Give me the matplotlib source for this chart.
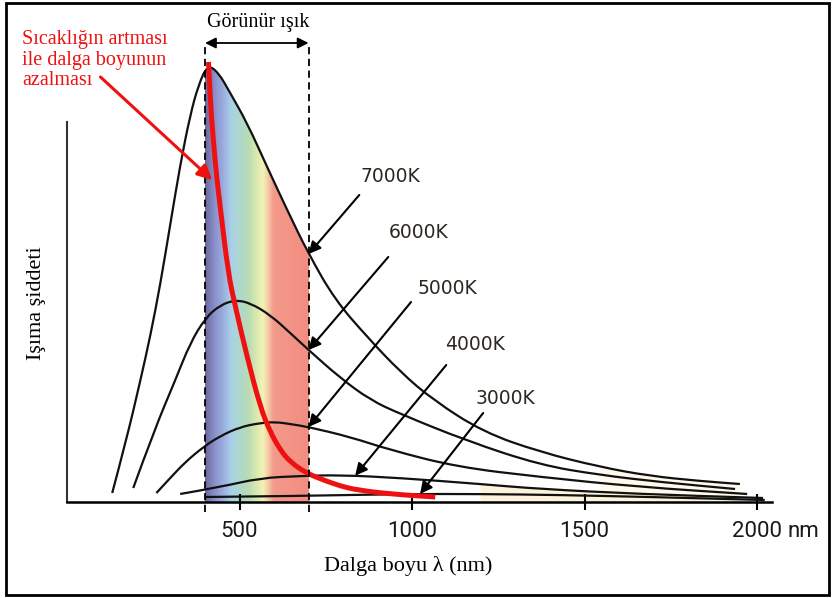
import numpy as np
import matplotlib.pyplot as plt
from matplotlib.colors import LinearSegmentedColormap
from matplotlib.patches import Rectangle, PathPatch
from matplotlib.path import Path

# Dalga boyu (nm) ve ışıma şiddeti (keyfi birim), resimden okunan noktalar
lam_7000 = [131, 172, 213, 242, 270, 299, 328, 357, 381, 407, 438, 473, 522, 580,
            638, 700, 777, 870, 966, 1061, 1206, 1371, 1545, 1690, 1834, 1950]
int_7000 = [9, 62, 122, 167, 217, 277, 337, 387, 417, 437, 430, 409, 379, 335,
            292, 248, 202, 165, 130, 102, 70, 50, 35, 26, 21, 18]

lam_6000 = [192, 253, 314, 357, 401, 444, 488, 531, 589, 647, 700, 792, 879, 966,
            1160, 1371, 1545, 1718, 1936]
int_6000 = [14, 72, 122, 159, 184, 197, 202, 199, 187, 169, 152, 124, 102, 88,
            61, 37, 27, 20, 13]

lam_5000 = [259, 299, 343, 395, 444, 502, 560, 604, 647, 700, 821, 937, 1131,
            1371, 1661, 1971]
int_5000 = [9, 24, 40, 55, 66, 75, 79, 80, 78, 75, 65, 52, 35, 25, 15, 8]

lam_4000 = [328, 444, 560, 676, 792, 966, 1197, 1371, 1661, 2017]
int_4000 = [8, 15, 24, 26, 27, 24, 18, 13, 8, 4]

lam_3000 = [400, 676, 966, 1197, 1429, 1690, 2022]
int_3000 = [5, 6, 8, 8, 7, 5, 2]

# Wien kayması (kırmızı eğri)
lam_wien = [410, 415, 424, 433, 444, 467, 488, 522, 560, 589, 618, 647, 693, 743,
            792, 841, 937, 1067]
int_wien = [440, 402, 362, 327, 295, 229, 195, 145, 95, 70, 52, 40, 29, 22, 16,
            12, 8, 5]

curves = [(lam_7000, int_7000), (lam_6000, int_6000), (lam_5000, int_5000),
          (lam_4000, int_4000), (lam_3000, int_3000)]
temps = ["7000K", "6000K", "5000K", "4000K", "3000K"]
arrow_tip_lam = [700, 700, 700, 835, 1023]

x_ticks = [500, 1000, 1500, 2000]
x_ticklabels = ["500", "1000", "1500", "2000"]
visible = (400, 700)


def smooth_path(x, y):
    # noktalardan geçen yumuşak çizgi (kuadratik bezier, orta noktalar)
    p = np.column_stack([x, y]).astype(float)
    verts, codes = [p[0]], [Path.MOVETO]
    for i in range(1, len(p) - 1):
        verts += [p[i], (p[i] + p[i + 1]) / 2]
        codes += [Path.CURVE3, Path.CURVE3]
    verts.append(p[-1])
    codes.append(Path.LINETO)
    return Path(verts, codes)


fig = plt.figure(figsize=(8.32, 5.98), dpi=100)
ax = fig.add_axes([67 / 832, 96 / 598, 705 / 832, 380 / 598])
ax.set_xlim(0, 2043)
ax.set_ylim(0, 380)

# görünür bölge renk geçişi
spec = LinearSegmentedColormap.from_list("spec", [
    (0.00, "#6c6a9b"), (0.09, "#8a90cc"), (0.18, "#9cb0e0"), (0.25, "#a9d0e7"),
    (0.33, "#add8cf"), (0.42, "#b8dcb2"), (0.50, "#dde9b0"), (0.56, "#f3f2b6"),
    (0.61, "#f5c8a4"), (0.66, "#f39a8b"), (1.00, "#f28d80")])
grad = np.linspace(0, 1, 300).reshape(1, -1)
im = ax.imshow(grad, cmap=spec, aspect="auto", extent=[visible[0], visible[1], 0, 440],
               origin="lower", zorder=1)
p7 = smooth_path(lam_7000, int_7000)
clip_verts = np.vstack([p7.vertices, [[2100, 0], [0, 0]]])
clip_codes = list(p7.codes) + [Path.LINETO, Path.LINETO]
im.set_clip_path(Path(clip_verts, clip_codes), transform=ax.transData)
im.set_clip_box(fig.bbox)

# kızılötesi bölgedeki açık krem dolgu
m4 = np.array(lam_4000) >= 1100
ax.fill_between(np.array(lam_4000)[m4], 0, np.array(int_4000)[m4], color="#fcf3da",
                zorder=1, lw=0)
m7 = np.array(lam_7000) >= 1545
ax.fill_between(np.array(lam_7000)[m7], 0, np.array(int_7000)[m7], color="#fef9ea",
                zorder=0.9, lw=0)

for lam, val in curves:
    ax.add_patch(PathPatch(smooth_path(lam, val), fill=False, edgecolor="#111111",
                           lw=1.6, zorder=3, clip_on=False, capstyle="butt"))

ax.add_patch(PathPatch(smooth_path(lam_wien, int_wien), fill=False, edgecolor="#ee1111",
                       lw=3.6, zorder=4, clip_on=False, capstyle="butt"))

# görünür ışık sınırları
for v in visible:
    ax.plot([v, v], [-10, 457], color="black", lw=1.3, ls=(0, (4, 2.5)),
            zorder=5, clip_on=False)
ax.annotate("", xy=(visible[1], 459), xytext=(visible[0], 459),
            arrowprops=dict(arrowstyle="<|-|>", color="black", lw=1.3,
                            mutation_scale=16, shrinkA=0, shrinkB=0),
            annotation_clip=False)

# sıcaklık etiketleri
label_pos = [(850, 325), (931, 269), (1015, 214), (1096, 158), (1183, 103)]
tails = [(847, 307), (931, 245), (997, 200), (1099, 137), (1206, 89)]
for (lam, val), t, lp, tl, tip in zip(curves, temps, label_pos, tails, arrow_tip_lam):
    ax.text(lp[0], lp[1], t, fontsize=13.5, family="DejaVu Sans", color="#2c2820",
            ha="left", va="center")
    ax.annotate("", xy=(tip, np.interp(tip, lam, val)), xytext=tl,
                arrowprops=dict(arrowstyle="-|>", color="black", lw=1.5,
                                mutation_scale=18, shrinkA=0, shrinkB=0),
                zorder=6)

# kırmızı ok
ax.annotate("", xy=(421, 322), xytext=(97, 425),
            arrowprops=dict(arrowstyle="-|>", color="#ee1111", lw=2.2,
                            mutation_scale=22, shrinkA=0, shrinkB=0),
            annotation_clip=False, zorder=6)

ax.spines["top"].set_visible(False)
ax.spines["right"].set_visible(False)
ax.spines["left"].set_color("#333333")
ax.spines["left"].set_linewidth(1.5)
ax.spines["bottom"].set_linewidth(1.8)
ax.set_yticks([])
ax.set_xticks(x_ticks)
ax.set_xticklabels(x_ticklabels)
ax.tick_params(axis="x", direction="inout", length=12, width=1.5, pad=8,
               labelsize=16, labelcolor="#1a1a1a")
for lbl in ax.get_xticklabels():
    lbl.set_family("Roboto")
ax.annotate("nm", xy=(2000, 0), xytext=(22, -14), textcoords="offset points",
            ha="left", va="top", fontsize=16, color="#1a1a1a",
            family="Roboto", annotation_clip=False)

serif = "Liberation Serif"
fig.text(408 / 832, 1 - 566 / 598, "Dalga boyu λ (nm)", family=serif, fontsize=16,
         ha="center", va="center")
fig.text(36 / 832, 1 - 303 / 598, "Işıma şiddeti", family=serif, fontsize=16,
         ha="center", va="center", rotation=90)
fig.text(258 / 832, 1 - 22 / 598, "Görünür ışık", family=serif, fontsize=14.5,
         ha="center", va="center")
fig.text(22 / 832, 1 - 30 / 598, "Sıcaklığın artması\nile dalga boyunun\nazalması",
         family=serif, fontsize=14.5, color="#ee1111", ha="left", va="top",
         linespacing=1.12)

fig.patches.append(Rectangle((6 / 832, 3 / 598), 823 / 832, 592 / 598,
                             transform=fig.transFigure, fill=False, lw=2,
                             edgecolor="black"))

fig.savefig("out.png", dpi=100)
